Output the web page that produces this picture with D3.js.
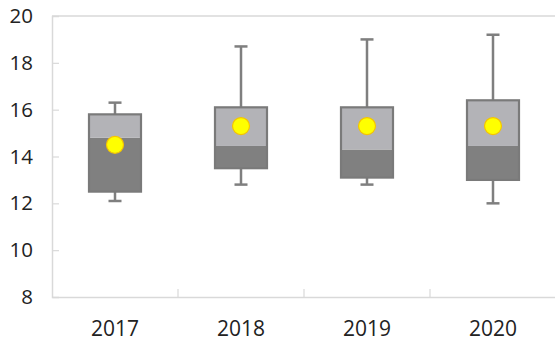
<!DOCTYPE html>
<html><head><meta charset="utf-8">
<script src="https://cdn.jsdelivr.net/npm/d3@7"></script>
<style>body{margin:0;background:#fff}svg{display:block}</style>
</head><body>
<script>
const categories = ["2017","2018","2019","2020"];
const whiskerLow  = [12.1, 12.8, 12.8, 12.0];
const q1          = [12.5, 13.5, 13.1, 13.0];
const median      = [14.8, 14.45, 14.3, 14.45];
const q3          = [15.8, 16.1, 16.1, 16.4];
const whiskerHigh = [16.3, 18.7, 19.0, 19.2];
const means       = [14.5, 15.3, 15.3, 15.3];
const yTicks = [8,10,12,14,16,18,20];

const W=555,H=341;
const m={left:52,right:-1,top:16,bottom:44};
const svg=d3.select("body").append("svg").attr("width",W).attr("height",H);
const x=d3.scaleBand().domain(categories).range([m.left,W-m.right]);
const y=d3.scaleLinear().domain([8,20]).range([H-m.bottom,m.top]);
const font="'Open Sans','Noto Sans',sans-serif";

// frame top
svg.append("line").attr("x1",m.left).attr("x2",W).attr("y1",y(20)).attr("y2",y(20)).attr("stroke","#d9d9d9").attr("stroke-width",1.5);

const ya=svg.append("g").attr("transform",`translate(${m.left},0)`)
  .call(d3.axisLeft(y).tickValues(yTicks).tickSize(-7).tickPadding(19).tickFormat(d3.format("d")));
ya.select(".domain").attr("stroke","#d9d9d9").attr("stroke-width",1.5);
ya.selectAll(".tick line").attr("stroke","#d9d9d9").attr("stroke-width",1.2);
ya.selectAll(".tick text").attr("font-family",font).attr("font-size",20.5).attr("fill","#222");
ya.selectAll(".tick").filter(d=>d===20||d===8).select("line").remove();

const xa=svg.append("g").attr("transform",`translate(0,${y(8)})`)
  .call(d3.axisBottom(x).tickSize(0).tickPadding(24));
xa.select(".domain").attr("stroke","#d9d9d9").attr("stroke-width",1.5);
xa.selectAll(".tick text").attr("font-family",font).attr("font-size",21).attr("fill","#222");
// category separators
svg.selectAll(".sep").data(categories.slice(1)).enter().append("line")
  .attr("x1",d=>x(d)).attr("x2",d=>x(d)).attr("y1",y(8)).attr("y2",y(8)-8)
  .attr("stroke","#d9d9d9").attr("stroke-width",1.2);

const bw=52, cap=13;
const g=svg.selectAll(".box").data(categories).enter().append("g");
const cx=(d)=>x(d)+x.bandwidth()/2;
g.append("line").attr("x1",cx).attr("x2",cx).attr("y1",(d,i)=>y(whiskerHigh[i])).attr("y2",(d,i)=>y(q3[i])).attr("stroke","#7f7f7f").attr("stroke-width",2.5);
g.append("line").attr("x1",cx).attr("x2",cx).attr("y1",(d,i)=>y(whiskerLow[i])).attr("y2",(d,i)=>y(q1[i])).attr("stroke","#7f7f7f").attr("stroke-width",2.5);
g.append("line").attr("x1",d=>cx(d)-cap/2).attr("x2",d=>cx(d)+cap/2).attr("y1",(d,i)=>y(whiskerHigh[i])).attr("y2",(d,i)=>y(whiskerHigh[i])).attr("stroke","#7f7f7f").attr("stroke-width",2.5);
g.append("line").attr("x1",d=>cx(d)-cap/2).attr("x2",d=>cx(d)+cap/2).attr("y1",(d,i)=>y(whiskerLow[i])).attr("y2",(d,i)=>y(whiskerLow[i])).attr("stroke","#7f7f7f").attr("stroke-width",2.5);
g.append("rect").attr("x",d=>cx(d)-bw/2).attr("width",bw).attr("y",(d,i)=>y(median[i])).attr("height",(d,i)=>y(q1[i])-y(median[i])).attr("fill","#808080");
g.append("rect").attr("x",d=>cx(d)-bw/2).attr("width",bw).attr("y",(d,i)=>y(q3[i])).attr("height",(d,i)=>y(median[i])-y(q3[i])).attr("fill","#b3b3b7");
g.append("rect").attr("x",d=>cx(d)-bw/2).attr("width",bw).attr("y",(d,i)=>y(q3[i])).attr("height",(d,i)=>y(q1[i])-y(q3[i])).attr("fill","none").attr("stroke","#7a7a7a").attr("stroke-width",2.2);
g.append("circle").attr("cx",cx).attr("cy",(d,i)=>y(means[i])).attr("r",8.5).attr("fill","#ffff00").attr("stroke","#f5c400").attr("stroke-width",1.2);
</script>
</body></html>
